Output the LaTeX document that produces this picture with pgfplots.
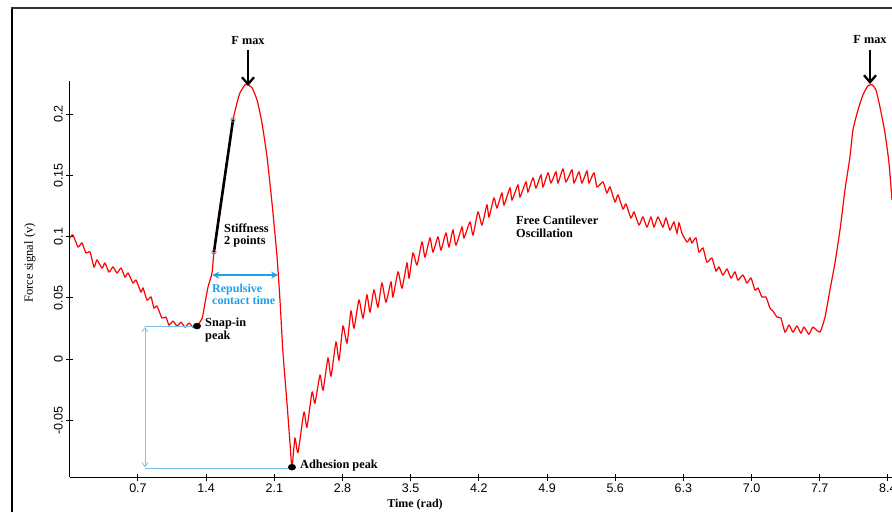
\documentclass[border=0pt]{standalone}
\usepackage{pgfplots}
\pgfplotsset{compat=1.18}
\usepackage{pgfplotstable}
\usepackage{fontspec}
\setmainfont{Liberation Serif}
\newfontfamily\arial{Liberation Sans}
\usetikzlibrary{arrows.meta}
\definecolor{repblue}{RGB}{30,160,235}
\definecolor{lightblue}{RGB}{120,195,235}

\pgfplotstableread{
x y
0.000 0.0989
0.033 0.1013
0.084 0.0915
0.125 0.0948
0.166 0.0866
0.208 0.0874
0.249 0.0752
0.279 0.0809
0.331 0.0743
0.361 0.0784
0.402 0.0711
0.444 0.0752
0.485 0.0703
0.526 0.0743
0.567 0.0670
0.598 0.0703
0.649 0.0621
0.680 0.0645
0.731 0.0547
0.752 0.0580
0.793 0.0482
0.834 0.0507
0.864 0.0417
0.895 0.0433
0.947 0.0335
0.988 0.0343
1.018 0.0278
1.060 0.0310
1.101 0.0270
1.142 0.0302
1.183 0.0261
1.224 0.0294
1.265 0.0261
1.306 0.0270
1.359 0.0335
1.388 0.0458
1.419 0.0588
1.460 0.0703
1.480 0.0874
1.521 0.1136
1.572 0.1405
1.624 0.1683
1.676 0.1953
1.717 0.2092
1.747 0.2173
1.799 0.2239
1.830 0.2239
1.871 0.2214
1.922 0.2116
1.973 0.1928
2.025 0.1650
2.076 0.1275
2.128 0.0833
2.158 0.0482
2.189 0.0049
2.230 -0.0359
2.261 -0.0686
2.281 -0.0882
2.312 -0.0645
2.343 -0.0760
2.404 -0.0433
2.435 -0.0556
2.487 -0.0270
2.517 -0.0359
2.569 -0.0131
2.600 -0.0253
2.651 0.0008
2.682 -0.0139
2.733 0.0139
2.764 -0.0008
2.805 0.0270
2.846 0.0131
2.887 0.0392
2.918 0.0253
2.969 0.0482
3.010 0.0335
3.051 0.0523
3.082 0.0384
3.123 0.0564
3.164 0.0425
3.205 0.0621
3.246 0.0466
3.298 0.0629
3.318 0.0507
3.370 0.0711
3.411 0.0580
3.462 0.0784
3.483 0.0662
3.524 0.0866
3.565 0.0768
3.616 0.0956
3.647 0.0833
3.698 0.0989
3.729 0.0874
3.780 0.0997
3.811 0.0891
3.862 0.1029
3.893 0.0915
3.934 0.1054
3.965 0.0931
4.027 0.1078
4.047 0.0989
4.109 0.1119
4.140 0.1013
4.191 0.1201
4.232 0.1095
4.283 0.1258
4.304 0.1160
4.355 0.1315
4.386 0.1234
4.437 0.1356
4.458 0.1258
4.520 0.1397
4.540 0.1299
4.602 0.1422
4.622 0.1324
4.684 0.1446
4.704 0.1364
4.756 0.1479
4.786 0.1397
4.838 0.1503
4.858 0.1405
4.910 0.1520
4.940 0.1438
4.992 0.1528
5.012 0.1438
5.064 0.1552
5.094 0.1446
5.156 0.1544
5.177 0.1438
5.228 0.1528
5.259 0.1438
5.310 0.1536
5.330 0.1438
5.382 0.1520
5.413 0.1405
5.474 0.1446
5.515 0.1356
5.546 0.1405
5.598 0.1283
5.628 0.1340
5.680 0.1225
5.710 0.1266
5.762 0.1152
5.793 0.1201
5.844 0.1095
5.885 0.1160
5.926 0.1078
5.967 0.1160
5.998 0.1078
6.039 0.1160
6.090 0.1078
6.121 0.1152
6.162 0.1054
6.203 0.1119
6.234 0.1029
6.255 0.1111
6.285 0.1029
6.337 0.0956
6.368 0.0989
6.388 0.0948
6.429 0.0989
6.460 0.0874
6.501 0.0907
6.542 0.0792
6.593 0.0825
6.634 0.0719
6.665 0.0752
6.706 0.0686
6.748 0.0735
6.789 0.0662
6.830 0.0711
6.860 0.0645
6.912 0.0686
6.953 0.0621
6.994 0.0662
7.035 0.0564
7.066 0.0580
7.107 0.0507
7.148 0.0507
7.189 0.0417
7.220 0.0392
7.261 0.0343
7.302 0.0335
7.343 0.0221
7.384 0.0278
7.425 0.0221
7.466 0.0270
7.507 0.0212
7.538 0.0261
7.589 0.0204
7.630 0.0261
7.702 0.0221
7.754 0.0343
7.805 0.0564
7.856 0.0784
7.908 0.1054
7.959 0.1381
8.010 0.1650
8.041 0.1871
8.093 0.2034
8.144 0.2157
8.195 0.2230
8.236 0.2239
8.277 0.2198
8.318 0.2059
8.370 0.1846
8.411 0.1601
8.442 0.1299
}\curvedata

\begin{document}
\begin{tikzpicture}[x=1pt,y=1pt]
\useasboundingbox (0,0) rectangle (892,512);
\draw[black, line width=2.3pt] (12,0) -- (12,505);
\draw[black!80, line width=1.5pt] (10.85,504) -- (892,504);
\begin{axis}[
  at={(69.8pt,35pt)}, anchor=south west,
  scale only axis, width=822.2pt, height=396pt,
  xmin=0, xmax=8.442, ymin=-0.0962, ymax=0.227,
  axis x line*=bottom, axis y line*=left,
  axis line style={-, line width=1pt},
  xtick={0.7,1.4,2.1,2.8,3.5,4.2,4.9,5.6,6.3,7.0,7.7,8.4},
  xticklabels={0.7,1.4,2.1,2.8,3.5,4.2,4.9,5.6,6.3,7.0,7.7,8.4},
  ytick={-0.05,0,0.05,0.1,0.15,0.2},
  yticklabels={-0.05,0,0.05,0.1,0.15,0.2},
  tick align=center, major tick length=7pt,
  tick style={black, line width=1pt},
  ticklabel style={font=\arial\fontsize{12.5}{14}\selectfont},
  yticklabel style={rotate=90, anchor=south},
  clip=false,
]
\addplot[red, line width=1.2pt, smooth, tension=0.35] table {\curvedata};
\addplot[black, line width=2.6pt] coordinates {(1.480,0.0874) (1.676,0.1953)};
\addplot[only marks, mark=o, mark size=2.2pt, gray, line width=0.7pt] coordinates {(1.480,0.0874) (1.676,0.1953)};
\addplot[lightblue, line width=0.8pt] coordinates {(0.772,0.0270) (1.306,0.0270)};
\addplot[lightblue, line width=0.8pt] coordinates {(0.772,-0.0891) (2.281,-0.0891)};
\addplot[lightblue, line width=0.8pt, {Straight Barb[length=4pt,width=6pt]}-{Straight Barb[length=4pt,width=6pt]}] coordinates {(0.772,0.0262) (0.772,-0.0883)};
\addplot[repblue, line width=2pt, {Stealth[length=7pt,width=7pt]}-{Stealth[length=7pt,width=7pt]}] coordinates {(1.462,0.0686) (2.138,0.0686)};
\addplot[only marks, mark=*, mark size=3pt, black, mark options={xscale=1.25}] coordinates {(1.306,0.0270) (2.281,-0.0882)};
\end{axis}
% annotations (text and pointers)
\def\annfont{\bfseries\fontsize{12.3}{12.5}\selectfont}
\node[font=\annfont] at (248,471) {F max};
\draw[line width=2.3pt, -{Straight Barb[length=7pt,width=12pt]}] (248,462) -- (248,426);
\node[font=\annfont] at (870,472) {F max};
\draw[line width=2.3pt, -{Straight Barb[length=7pt,width=12pt]}] (870,462) -- (870,428);
\node[font=\annfont, anchor=west, align=left, inner sep=0pt] at (224,276.5) {Stiffness\\2 points};
\node[font=\bfseries\fontsize{12}{10.5}\selectfont, text=repblue, anchor=west, align=left, inner sep=0pt] at (212,218) {Repulsive\\contact time};
\node[font=\annfont, anchor=west, align=left, inner sep=0pt] at (205,182) {Snap-in\\peak};
\node[font=\annfont, anchor=west, inner sep=0pt] at (300,46) {Adhesion peak};
\node[font=\annfont, anchor=west, align=left, inner sep=0pt] at (516,285) {Free Cantilever\\Oscillation};
\node[font=\fontsize{12.5}{14}\selectfont, rotate=90] at (30,249) {Force signal (v)};
\node[font=\bfseries\fontsize{12}{14}\selectfont] at (415,7) {Time (rad)};
\end{tikzpicture}
\end{document}
